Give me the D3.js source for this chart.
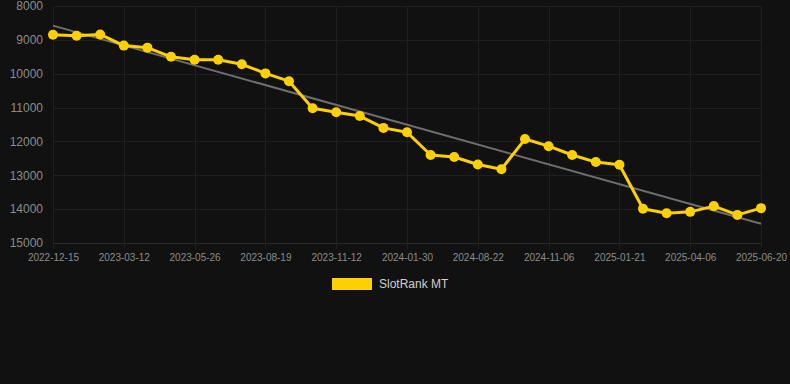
<!DOCTYPE html>
<html>
<head>
<meta charset="utf-8">
<script src="https://cdn.jsdelivr.net/npm/d3@7"></script>
<style>
  html, body { margin: 0; padding: 0; background: #111111; }
  svg { display: block; font-family: "Liberation Sans", Arial, Helvetica, sans-serif; }
</style>
</head>
<body>
<svg id="chart" width="790" height="384"></svg>
<script>
(function() {

// category labels (one per sample)
const dates = [
    "2022-12-15", "2023-01-13", "2023-02-11", "2023-03-12", "2023-04-06", "2023-05-01",
    "2023-05-26", "2023-06-23", "2023-07-21", "2023-08-19", "2023-09-16", "2023-10-14",
    "2023-11-12", "2023-12-08", "2024-01-04", "2024-01-30", "2024-04-11", "2024-06-17",
    "2024-08-22", "2024-09-16", "2024-10-11", "2024-11-06", "2024-12-01", "2024-12-26",
    "2025-01-21", "2025-02-14", "2025-03-12", "2025-04-06", "2025-05-01", "2025-05-26",
    "2025-06-20"
];

// rank values
const ranks = [
    8850, 8880, 8840, 9170, 9230, 9500, 9590, 9590, 9720, 9990,
    10220, 11020, 11140, 11250, 11600, 11730, 12400, 12460, 12680, 12820,
    11930, 12140, 12400, 12610, 12690, 13990, 14120, 14080, 13910, 14170,
    13970
];

// trend line ends
const trend = [8580, 14430];

const yTicks = [8000, 9000, 10000, 11000, 12000, 13000, 14000, 15000];
const xTicks = dates.filter((d, i) => i % 3 === 0);

const seriesName = "SlotRank MT";
const gold = "#fed000";

const svg = d3.select("#chart");

const x = d3.scalePoint()
    .domain(dates)
    .range([53, 761]);

const y = d3.scaleLinear()
    .domain([8000, 15000])
    .range([6, 243]);

// grid
const grid = svg.append("g").attr("class", "grid");

grid.selectAll("line.h")
    .data(yTicks)
    .enter().append("line")
    .attr("class", "h")
    .attr("x1", 53)
    .attr("x2", 761)
    .attr("y1", (d) => Math.round(y(d)) + 0.5)
    .attr("y2", (d) => Math.round(y(d)) + 0.5)
    .attr("stroke", (d) => d === 15000 ? "#2a2a2a" : "#1f1f1f")
    .attr("stroke-width", 1);

grid.selectAll("line.v")
    .data(xTicks)
    .enter().append("line")
    .attr("class", "v")
    .attr("x1", (d) => Math.round(x(d)) + 0.5)
    .attr("x2", (d) => Math.round(x(d)) + 0.5)
    .attr("y1", y(8000))
    .attr("y2", y(15000) + 6)
    .attr("stroke", "#1f1f1f")
    .attr("stroke-width", 1);

// y axis labels
const yAxis = svg.append("g")
    .attr("transform", "translate(43,0)")
    .call(d3.axisLeft(y).tickValues(yTicks).tickSize(0).tickPadding(0).tickFormat(d3.format("d")));
yAxis.select(".domain").remove();
yAxis.selectAll("text")
    .attr("fill", "#8c8c8c")
    .attr("font-size", 12)
    .attr("font-family", "Liberation Sans, Arial, sans-serif");

// x axis labels
const xAxis = svg.append("g")
    .attr("transform", "translate(0,254)")
    .call(d3.axisBottom(x).tickValues(xTicks).tickSize(0).tickPadding(0));
xAxis.select(".domain").remove();
xAxis.selectAll("text")
    .attr("fill", "#8c8c8c")
    .attr("font-size", 10)
    .attr("font-family", "Liberation Sans, Arial, sans-serif");

// trend line
svg.append("line")
    .attr("x1", x(dates[0]))
    .attr("y1", y(trend[0]))
    .attr("x2", x(dates[dates.length - 1]))
    .attr("y2", y(trend[1]))
    .attr("stroke", "#6e6e6e")
    .attr("stroke-width", 2);

// series line
const line = d3.line()
    .x((d, i) => x(dates[i]))
    .y((d) => y(d));

svg.append("path")
    .datum(ranks)
    .attr("d", line)
    .attr("fill", "none")
    .attr("stroke", gold)
    .attr("stroke-width", 3)
    .attr("stroke-linejoin", "round");

svg.append("g")
    .selectAll("circle")
    .data(ranks)
    .enter().append("circle")
    .attr("cx", (d, i) => x(dates[i]))
    .attr("cy", (d) => y(d))
    .attr("r", 5)
    .attr("fill", gold);

// legend
const legend = svg.append("g").attr("transform", "translate(332,278)");
legend.append("rect")
    .attr("width", 40)
    .attr("height", 12)
    .attr("fill", gold);
legend.append("text")
    .attr("x", 47)
    .attr("y", 6)
    .attr("dominant-baseline", "central")
    .attr("fill", "#d0d0d0")
    .attr("font-size", 12)
    .text(seriesName);

})();
</script>
</body>
</html>
